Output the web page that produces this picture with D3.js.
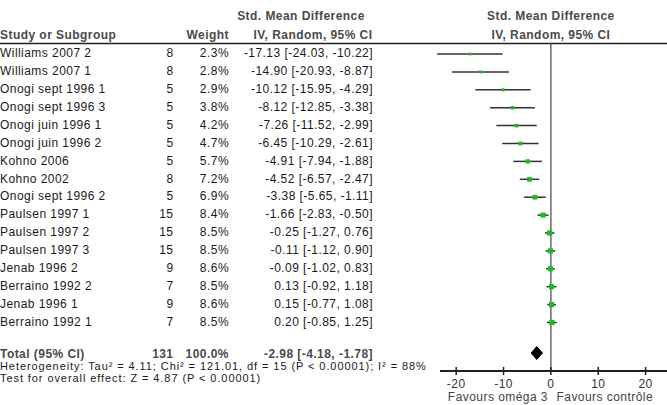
<!DOCTYPE html>
<html>
<head>
<meta charset="utf-8">
<script src="https://cdn.jsdelivr.net/npm/d3@7"></script>
<style>
  html, body { margin: 0; padding: 0; background: #fff; }
  svg { display: block; }
  text { font-family: "Liberation Sans", Arial, sans-serif; font-size: 12px; letter-spacing: 0.45px; }
  text.small { font-size: 11px; letter-spacing: 0.92px; }
</style>
</head>
<body>
<svg id="chart" width="667" height="405"></svg>
<script>
const studies = ["Williams 2007 2","Williams 2007 1","Onogi sept 1996 1","Onogi sept 1996 3","Onogi juin 1996 1","Onogi juin 1996 2","Kohno 2006","Kohno 2002","Onogi sept 1996 2","Paulsen 1997 1","Paulsen 1997 2","Paulsen 1997 3","Jenab 1996 2","Berraino 1992 2","Jenab 1996 1","Berraino 1992 1"];
const totals = [8,8,5,5,5,5,5,8,5,15,15,15,9,7,9,7];
const weights = [2.3,2.8,2.9,3.8,4.2,4.7,5.7,7.2,6.9,8.4,8.5,8.5,8.6,8.5,8.6,8.5];
const smd = [-17.13,-14.90,-10.12,-8.12,-7.26,-6.45,-4.91,-4.52,-3.38,-1.66,-0.25,-0.11,-0.09,0.13,0.15,0.20];
const ciLow = [-24.03,-20.93,-15.95,-12.85,-11.52,-10.29,-7.94,-6.57,-5.65,-2.83,-1.27,-1.12,-1.02,-0.92,-0.77,-0.85];
const ciHigh = [-10.22,-8.87,-4.29,-3.38,-2.99,-2.61,-1.88,-2.47,-1.11,-0.50,0.76,0.90,0.83,1.18,1.08,1.25];
const pooled = {total: 131, weight: 100.0, smd: -2.98, lo: -4.18, hi: -1.78};
const axisTicks = [-20,-10,0,10,20];
const heterogeneityText = "Heterogeneity: Tau\u00B2 = 4.11; Chi\u00B2 = 121.01, df = 15 (P < 0.00001); I\u00B2 = 88%";
const overallText = "Test for overall effect: Z = 4.87 (P < 0.00001)";

const svg = d3.select("#chart");
const fmt = v => v.toFixed(2);

const x = d3.scaleLinear().domain([-20, 20]).range([456.2, 645.6]);
const y = d3.scaleLinear().domain([0, studies.length - 1]).range([53, 321.5]);
const sizeScale = d3.scaleSqrt().domain([0, 10]).range([0, 5.6]);

const headColor = "#4a4a4a";
const textColor = "#1a1a1a";
const green = "#21b821";

// headers
svg.append("text").attr("x", 0).attr("y", 39).attr("font-weight", "bold").attr("fill", headColor).text("Study or Subgroup");
svg.append("text").attr("x", 229).attr("y", 39).attr("text-anchor", "end").attr("font-weight", "bold").attr("fill", headColor).text("Weight");
svg.append("text").attr("x", 301).attr("y", 20).attr("text-anchor", "middle").attr("font-weight", "bold").attr("fill", headColor).text("Std. Mean Difference");
svg.append("text").attr("x", 313).attr("y", 39).attr("text-anchor", "middle").attr("font-weight", "bold").attr("fill", headColor).text("IV, Random, 95% CI");
svg.append("text").attr("x", x(0)).attr("y", 20).attr("text-anchor", "middle").attr("font-weight", "bold").attr("fill", headColor).text("Std. Mean Difference");
svg.append("text").attr("x", x(0)).attr("y", 39).attr("text-anchor", "middle").attr("font-weight", "bold").attr("fill", headColor).text("IV, Random, 95% CI");

svg.append("line").attr("x1", 0).attr("x2", 667).attr("y1", 43.5).attr("y2", 43.5).attr("stroke", "#222").attr("stroke-width", 1.5);

// rows text
const rows = svg.append("g");
studies.forEach((s, i) => {
  const yy = y(i);
  rows.append("text").attr("x", 0).attr("y", yy).attr("dy", "0.35em").attr("fill", textColor).text(s);
  rows.append("text").attr("x", 173.5).attr("y", yy).attr("dy", "0.35em").attr("text-anchor", "end").attr("fill", textColor).text(totals[i]);
  rows.append("text").attr("x", 229).attr("y", yy).attr("dy", "0.35em").attr("text-anchor", "end").attr("fill", textColor).text(weights[i].toFixed(1) + "%");
  rows.append("text").attr("x", 373).attr("y", yy).attr("dy", "0.35em").attr("text-anchor", "end").attr("fill", textColor)
    .text(`${fmt(smd[i])} [${fmt(ciLow[i])}, ${fmt(ciHigh[i])}]`);
});

// total row
const yTot = 354;
svg.append("text").attr("x", 0).attr("y", yTot).attr("dy", "0.35em").attr("font-weight", "bold").attr("fill", headColor).text("Total (95% CI)");
svg.append("text").attr("x", 173.5).attr("y", yTot).attr("dy", "0.35em").attr("text-anchor", "end").attr("font-weight", "bold").attr("fill", headColor).text(pooled.total);
svg.append("text").attr("x", 229).attr("y", yTot).attr("dy", "0.35em").attr("text-anchor", "end").attr("font-weight", "bold").attr("fill", headColor).text(pooled.weight.toFixed(1) + "%");
svg.append("text").attr("x", 373).attr("y", yTot).attr("dy", "0.35em").attr("text-anchor", "end").attr("font-weight", "bold").attr("fill", headColor)
  .text(`${fmt(pooled.smd)} [${fmt(pooled.lo)}, ${fmt(pooled.hi)}]`);

svg.append("text").attr("class", "small").attr("x", 0).attr("y", 366.5).attr("dy", "0.35em").attr("fill", textColor).text(heterogeneityText);
svg.append("text").attr("class", "small").attr("x", 0).attr("y", 378).attr("dy", "0.35em").attr("fill", textColor).text(overallText);

// zero line
svg.append("line").attr("x1", x(0)).attr("x2", x(0)).attr("y1", 43).attr("y2", 371).attr("stroke", "#444").attr("stroke-width", 1.2);

// CI lines and markers
const plot = svg.append("g");
studies.forEach((s, i) => {
  const yy = y(i) + 1;
  plot.append("line").attr("x1", x(ciLow[i])).attr("x2", x(ciHigh[i])).attr("y1", yy).attr("y2", yy)
    .attr("stroke", "#333").attr("stroke-width", 1.5);
  const sz = sizeScale(weights[i]);
  plot.append("rect").attr("x", x(smd[i]) - sz / 2).attr("y", yy - sz / 2).attr("width", sz).attr("height", sz).attr("fill", green);
});

// diamond
const dy = 353, dh = 6.5;
svg.append("path")
  .attr("d", `M${x(pooled.lo)},${dy} L${x(pooled.smd)},${dy - dh} L${x(pooled.hi)},${dy} L${x(pooled.smd)},${dy + dh} Z`)
  .attr("fill", "#000").attr("stroke", "#000").attr("stroke-width", 1).attr("stroke-linejoin", "round");

// axis
const axisY = 371;
svg.append("line").attr("x1", 440).attr("x2", 667).attr("y1", axisY).attr("y2", axisY).attr("stroke", "#222").attr("stroke-width", 2);
axisTicks.forEach(t => {
  svg.append("line").attr("x1", x(t)).attr("x2", x(t)).attr("y1", axisY - 4).attr("y2", axisY + 4).attr("stroke", "#222").attr("stroke-width", 1.5);
  svg.append("text").attr("x", x(t)).attr("y", 388).attr("text-anchor", "middle").attr("fill", "#333").text(t);
});
svg.append("text").attr("x", 548).attr("y", 401).attr("text-anchor", "end").attr("fill", "#444").attr("letter-spacing", "0.2").text("Favours oméga 3");
svg.append("text").attr("x", 556.5).attr("y", 401).attr("fill", "#444").attr("letter-spacing", "0.2").text("Favours contrôle");
</script>
</body>
</html>
